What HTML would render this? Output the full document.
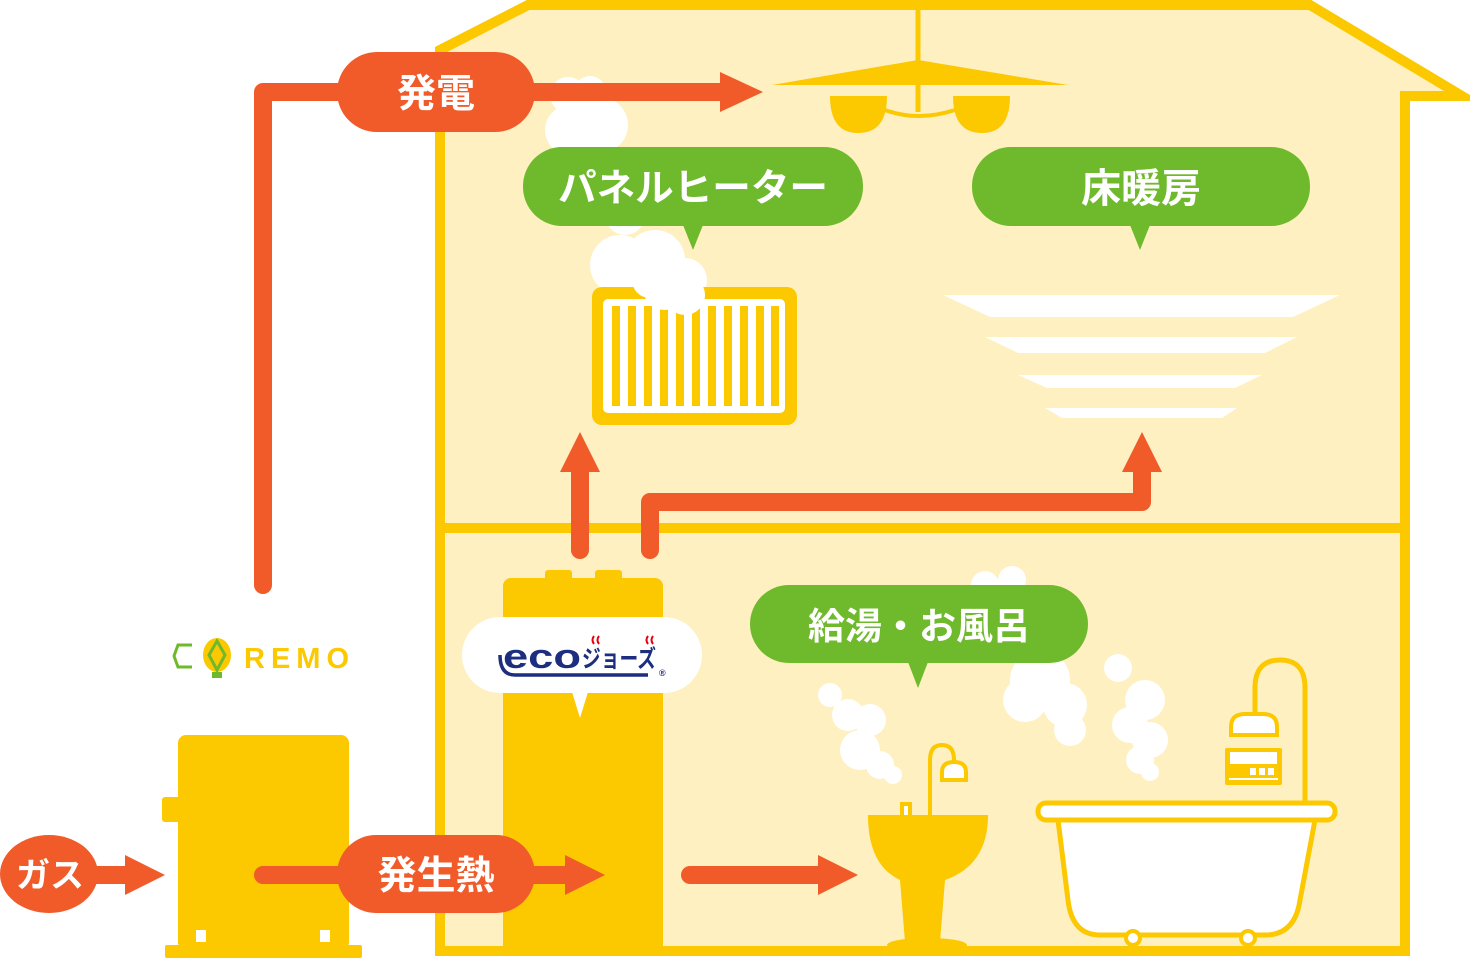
<!DOCTYPE html>
<html><head><meta charset="utf-8"><style>
html,body{margin:0;padding:0;background:#fff}
svg{display:block}
text{font-family:"Liberation Sans","Noto Sans CJK JP",sans-serif;font-weight:bold}
</style></head><body>
<svg width="1470" height="959" viewBox="0 0 1470 959" xmlns="http://www.w3.org/2000/svg">
<path d="M440,50 L528,5 L1310,5 L1462,96 L1405,96 L1405,951 L440,951 Z" fill="#FEF0C0" stroke="#FCC800" stroke-width="10" stroke-linejoin="miter"/>
<line x1="440" y1="528" x2="1405" y2="528" stroke="#FCC800" stroke-width="10"/>
<line x1="918" y1="8" x2="918" y2="112" stroke="#FCC800" stroke-width="5"/>
<polygon points="772,85 918,60 1068,85" fill="#FCC800"/>
<path d="M885,110 Q918,122 955,110" fill="none" stroke="#FCC800" stroke-width="4"/>
<path d="M830,96 L887,96 Q887,133 858,133 Q830,133 830,96 Z" fill="#FCC800"/>
<path d="M953,96 L1010,96 Q1010,133 982,133 Q953,133 953,96 Z" fill="#FCC800"/>
<g fill="#fff">
<circle cx="568" cy="95" r="18"/><circle cx="590" cy="92" r="16"/><circle cx="600" cy="125" r="28"/><circle cx="570" cy="130" r="25"/>
<circle cx="580" cy="165" r="25"/><circle cx="610" cy="170" r="22"/><circle cx="600" cy="200" r="25"/><circle cx="625" cy="215" r="20"/>
<circle cx="620" cy="265" r="30"/><circle cx="655" cy="260" r="30"/><circle cx="685" cy="280" r="22"/><circle cx="678" cy="305" r="18"/><circle cx="645" cy="290" r="22"/>
</g>
<rect x="592" y="287" width="205" height="138" rx="10" fill="#FCC800"/>
<rect x="603" y="299" width="182" height="114" rx="5" fill="#fff"/>
<g fill="#FCC800">
<rect x="612" y="306" width="8" height="100"/><rect x="628" y="306" width="8" height="100"/><rect x="644" y="306" width="8" height="100"/><rect x="660" y="306" width="8" height="100"/><rect x="676" y="306" width="8" height="100"/><rect x="692" y="306" width="8" height="100"/><rect x="708" y="306" width="8" height="100"/><rect x="724" y="306" width="8" height="100"/><rect x="740" y="306" width="8" height="100"/><rect x="756" y="306" width="8" height="100"/><rect x="771" y="306" width="8" height="100"/>
</g>
<g fill="#fff"><circle cx="665" cy="288" r="22"/><circle cx="685" cy="295" r="20"/><circle cx="650" cy="280" r="18"/></g>
<g fill="#fff">
<polygon points="943,295 1340,295 1293,317 990,317"/>
<polygon points="985,337 1297,337 1265,353 1018,353"/>
<polygon points="1018,375 1262,375 1235,388 1047,388"/>
<polygon points="1045,408 1237,408 1222,418 1062,418"/>
</g>
<g fill="#fff">
<circle cx="985" cy="585" r="14"/><circle cx="1012" cy="580" r="14"/><circle cx="1010" cy="620" r="25"/><circle cx="1040" cy="680" r="30"/><circle cx="1065" cy="705" r="22"/><circle cx="1025" cy="700" r="22"/><circle cx="1070" cy="730" r="16"/>
<circle cx="830" cy="695" r="12"/><circle cx="848" cy="715" r="16"/><circle cx="870" cy="720" r="16"/><circle cx="860" cy="750" r="20"/><circle cx="880" cy="765" r="14"/><circle cx="893" cy="775" r="9"/>
<circle cx="1118" cy="668" r="14"/><circle cx="1145" cy="700" r="20"/><circle cx="1130" cy="725" r="18"/><circle cx="1150" cy="740" r="18"/><circle cx="1140" cy="760" r="14"/><circle cx="1150" cy="772" r="9"/>
</g>
<g fill="#6FB92C">
<rect x="523" y="147" width="340" height="79" rx="39"/><polygon points="683,225 703,225 693,250"/>
<rect x="972" y="147" width="338" height="79" rx="39"/><polygon points="1130,225 1150,225 1140,250"/>
<rect x="750" y="585" width="338" height="78" rx="39"/><polygon points="908,662 928,662 918,688"/>
</g>
<text x="693" y="201" font-size="38" fill="#fff" text-anchor="middle" textLength="270" lengthAdjust="spacingAndGlyphs">パネルヒーター</text>
<text x="1141" y="202" font-size="40" fill="#fff" text-anchor="middle">床暖房</text>
<text x="919" y="639" font-size="37" fill="#fff" text-anchor="middle" textLength="222" lengthAdjust="spacingAndGlyphs">給湯・お風呂</text>
<g fill="#FCC800">
<path d="M868,815 L988,815 Q988,865 945,880 L940,942 L905,942 L900,880 Q868,865 868,815 Z"/>
<ellipse cx="927" cy="945" rx="40" ry="7"/>
<rect x="900" y="802" width="12" height="14"/>
</g>
<rect x="904" y="806" width="4" height="9" fill="#fff"/>
<path d="M930,815 L930,760 Q930,745 942,745 Q954,745 954,760 L954,767" fill="none" stroke="#FCC800" stroke-width="4"/>
<path d="M942,780 L942,772 Q942,762 954,762 Q966,762 966,772 L966,780 Z" fill="#fff" stroke="#FCC800" stroke-width="4"/>
<path d="M1058,820 L1068,900 Q1072,935 1100,935 L1265,935 Q1295,935 1300,900 L1315,820 Z" fill="#fff" stroke="#FCC800" stroke-width="5"/>
<rect x="1038" y="803" width="297" height="17" rx="8" fill="#fff" stroke="#FCC800" stroke-width="5"/>
<circle cx="1133" cy="938" r="7" fill="#fff" stroke="#FCC800" stroke-width="4"/>
<circle cx="1248" cy="938" r="7" fill="#fff" stroke="#FCC800" stroke-width="4"/>
<path d="M1305,801 L1305,688 Q1305,660 1280,660 Q1255,660 1255,688 L1255,716" fill="none" stroke="#FCC800" stroke-width="5"/>
<path d="M1231,735 L1231,727 Q1231,714 1245,714 L1263,714 Q1277,714 1277,727 L1277,735 Z" fill="#fff" stroke="#FCC800" stroke-width="4"/>
<rect x="1225" y="748" width="57" height="37" rx="2" fill="#FCC800"/>
<rect x="1230" y="752" width="47" height="12" fill="#fff"/>
<rect x="1250" y="768" width="6" height="7" fill="#fff"/><rect x="1259" y="768" width="6" height="7" fill="#fff"/><rect x="1268" y="768" width="6" height="7" fill="#fff"/>
<rect x="1229" y="778" width="49" height="2" fill="#fff"/>
<g fill="#FCC800">
<rect x="545" y="570" width="27" height="14" rx="3"/><rect x="595" y="570" width="27" height="14" rx="3"/>
<rect x="503" y="578" width="160" height="375" rx="8"/>
</g>
<rect x="462" y="617" width="240" height="76" rx="38" fill="#fff"/>
<polygon points="572,692 588,692 580,718" fill="#fff"/>
<path d="M500,655 Q500,675 515,675 L648,675" fill="none" stroke="#1D2D7F" stroke-width="3.5"/>
<text x="503" y="668" font-size="34" fill="#1D2D7F" textLength="78" lengthAdjust="spacingAndGlyphs">eco</text>
<text x="582" y="667" font-size="24" fill="#1D2D7F" textLength="74" lengthAdjust="spacingAndGlyphs">ジョーズ</text>
<text x="659" y="676" font-size="9" fill="#1D2D7F" font-weight="normal">®</text>
<g stroke="#E60012" stroke-width="2" fill="none"><path d="M594,636 q-3,4 0,8"/><path d="M599,636 q-3,4 0,8"/><path d="M648,636 q-3,4 0,8"/><path d="M653,636 q-3,4 0,8"/></g>
<g fill="#FCC800">
<rect x="162" y="797" width="20" height="25" rx="3"/>
<rect x="178" y="735" width="171" height="215" rx="8"/>
<rect x="165" y="945" width="197" height="13" rx="2"/>
</g>
<rect x="196" y="930" width="10" height="12" fill="#fff"/><rect x="320" y="930" width="10" height="12" fill="#fff"/>
<polyline points="192,645 178,645 174,656 178,667 192,667" fill="none" stroke="#6FB92C" stroke-width="3"/>
<ellipse cx="217" cy="655" rx="14" ry="17" fill="#FCC800"/>
<polygon points="217,641 225,655 217,670 209,655" fill="none" stroke="#6FB92C" stroke-width="3"/>
<rect x="212" y="672" width="10" height="6" fill="#6FB92C"/>
<text x="244" y="668" font-size="29" fill="#FCC800" font-weight="normal" style="letter-spacing:6px">REMO</text>
<g stroke="#F15A29" stroke-width="18" fill="none" stroke-linecap="round" stroke-linejoin="round">
<path d="M263,585 L263,92 L725,92"/>
<path d="M580,550 L580,468"/>
<path d="M650,550 L650,502 L1142,502 L1142,468"/>
<path d="M263,875 L570,875"/>
<path d="M690,875 L822,875"/>
<path d="M50,875 L130,875"/>
</g>
<g fill="#F15A29">
<polygon points="720,72 763,92 720,112"/>
<polygon points="560,472 580,432 600,472"/>
<polygon points="1122,472 1142,432 1162,472"/>
<polygon points="125,855 165,875 125,895"/>
<polygon points="565,855 605,875 565,895"/>
<polygon points="818,855 858,875 818,895"/>
<rect x="337" y="52" width="198" height="80" rx="40"/>
<rect x="337" y="835" width="198" height="78" rx="39"/>
<ellipse cx="49" cy="874" rx="49" ry="39"/>
</g>
<text x="436" y="107" font-size="39" fill="#fff" text-anchor="middle">発電</text>
<text x="436" y="889" font-size="39" fill="#fff" text-anchor="middle">発生熱</text>
<text x="50" y="887" font-size="34" fill="#fff" text-anchor="middle">ガス</text>
</svg>
</body></html>
